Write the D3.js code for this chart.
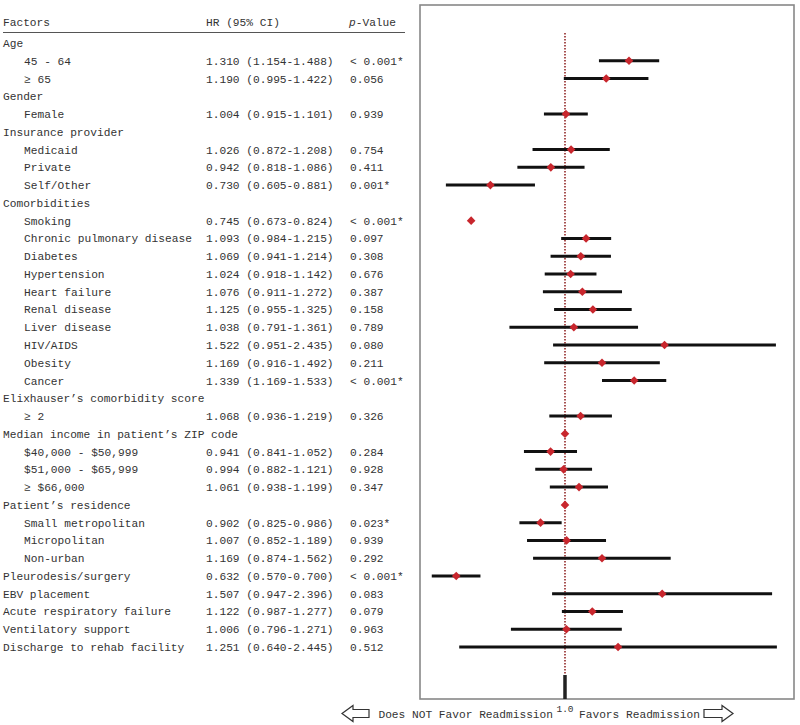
<!DOCTYPE html>
<html><head><meta charset="utf-8">
<script src="https://cdn.jsdelivr.net/npm/d3@7"></script>
<style>body{margin:0;background:#fff}svg{display:block}</style>
</head><body>
<script>
const labels = ["Age","45 - 64","\u2265 65","Gender","Female","Insurance provider","Medicaid","Private","Self/Other","Comorbidities","Smoking","Chronic pulmonary disease","Diabetes","Hypertension","Heart failure","Renal disease","Liver disease","HIV/AIDS","Obesity","Cancer","Elixhauser\u2019s comorbidity score","\u2265 2","Median income in patient\u2019s ZIP code","$40,000 - $50,999","$51,000 - $65,999","\u2265 $66,000","Patient\u2019s residence","Small metropolitan","Micropolitan","Non-urban","Pleurodesis/surgery","EBV placement","Acute respiratory failure","Ventilatory support","Discharge to rehab facility"];
const indent = [0,1,1,0,1,0,1,1,1,0,1,1,1,1,1,1,1,1,1,1,0,1,0,1,1,1,0,1,1,1,0,0,0,0,0];
const hrText = ["","1.310 (1.154-1.488)","1.190 (0.995-1.422)","","1.004 (0.915-1.101)","","1.026 (0.872-1.208)","0.942 (0.818-1.086)","0.730 (0.605-0.881)","","0.745 (0.673-0.824)","1.093 (0.984-1.215)","1.069 (0.941-1.214)","1.024 (0.918-1.142)","1.076 (0.911-1.272)","1.125 (0.955-1.325)","1.038 (0.791-1.361)","1.522 (0.951-2.435)","1.169 (0.916-1.492)","1.339 (1.169-1.533)","","1.068 (0.936-1.219)","","0.941 (0.841-1.052)","0.994 (0.882-1.121)","1.061 (0.938-1.199)","","0.902 (0.825-0.986)","1.007 (0.852-1.189)","1.169 (0.874-1.562)","0.632 (0.570-0.700)","1.507 (0.947-2.396)","1.122 (0.987-1.277)","1.006 (0.796-1.271)","1.251 (0.640-2.445)"];
const pText = ["","< 0.001*","0.056","","0.939","","0.754","0.411","0.001*","","< 0.001*","0.097","0.308","0.676","0.387","0.158","0.789","0.080","0.211","< 0.001*","","0.326","","0.284","0.928","0.347","","0.023*","0.939","0.292","< 0.001*","0.083","0.079","0.963","0.512"];
// plotted marks as they appear in the figure
const hr = [null,1.310,1.190,null,1.004,null,1.026,0.942,0.730,null,0.673,1.093,1.069,1.024,1.076,1.125,1.038,1.522,1.169,1.339,null,1.068,1.0,0.941,0.994,1.061,1.0,0.902,1.007,1.169,0.632,1.507,1.122,1.006,1.251];
const lo = [null,1.154,0.995,null,0.915,null,0.872,0.818,0.605,null,null,0.984,0.941,0.918,0.911,0.955,0.791,0.951,0.916,1.169,null,0.936,null,0.841,0.882,0.938,null,0.825,0.852,0.874,0.570,0.947,0.987,0.796,0.640];
const hi = [null,1.488,1.422,null,1.101,null,1.208,1.086,0.881,null,null,1.215,1.214,1.142,1.272,1.325,1.361,2.435,1.492,1.533,null,1.219,null,1.052,1.121,1.199,null,0.986,1.189,1.562,0.700,2.396,1.277,1.271,2.445];
const headers = ["Factors","HR (95% CI)","-Value"];

const W=800,H=725;
const svg=d3.select("body").append("svg").attr("width",W).attr("height",H);
const font="'Liberation Mono','Courier New',monospace";
const fs=11.2, tc="#333";

const box={l:420,r:794,t:5,b:699};
const x=d3.scaleLog().domain([0.5424,2.628]).range([box.l,box.r]);
const y=d3.scalePoint().domain(d3.range(labels.length)).range([43,647]);

// box
svg.append("rect").attr("x",box.l).attr("y",box.t).attr("width",box.r-box.l).attr("height",box.b-box.t)
  .attr("fill","none").attr("stroke","#888").attr("stroke-width",1.6);

// table header
const g=svg.append("g").attr("font-family",font).attr("font-size",fs).attr("fill",tc);
g.append("text").attr("x",3).attr("y",26).text(headers[0]);
g.append("text").attr("x",206).attr("y",26).text(headers[1]);
const pv=g.append("text").attr("x",349).attr("y",26);
pv.append("tspan").attr("font-style","italic").text("p");
pv.append("tspan").text(headers[2]);
svg.append("line").attr("x1",3).attr("x2",405).attr("y1",32.5).attr("y2",32.5).attr("stroke","#555").attr("stroke-width",1);

// rows
labels.forEach((lab,i)=>{
  const yy=y(i)+4;
  g.append("text").attr("x",indent[i]?24:3).attr("y",yy).text(lab);
  if(hrText[i]) g.append("text").attr("x",206).attr("y",yy).text(hrText[i]);
  if(pText[i]) g.append("text").attr("x",350).attr("y",yy).text(pText[i]);
});

// reference line
svg.append("line").attr("x1",x(1)).attr("x2",x(1)).attr("y1",33).attr("y2",675)
  .attr("stroke","#8b1a1a").attr("stroke-width",1.5).attr("stroke-dasharray","1.5,1.5");
svg.append("line").attr("x1",x(1)).attr("x2",x(1)).attr("y1",675).attr("y2",box.b)
  .attr("stroke","#222").attr("stroke-width",3.5);

// CI lines
const idx=d3.range(labels.length);
svg.append("g").selectAll("line").data(idx.filter(i=>lo[i]!=null)).join("line")
  .attr("x1",i=>x(lo[i])).attr("x2",i=>x(hi[i])).attr("y1",i=>y(i)).attr("y2",i=>y(i))
  .attr("stroke","#111").attr("stroke-width",3);
// diamonds
const d=4.3;
svg.append("g").selectAll("path").data(idx.filter(i=>hr[i]!=null)).join("path")
  .attr("d",i=>{const cx=x(hr[i]),cy=y(i);return `M${cx},${cy-d}L${cx+d},${cy}L${cx},${cy+d}L${cx-d},${cy}Z`;})
  .attr("fill","#c8262d");

// bottom labels
svg.append("text").attr("x",x(1)).attr("y",712).attr("text-anchor","middle").attr("font-family",font)
  .attr("font-size",9.5).attr("fill",tc).text("1.0");
svg.append("text").attr("x",553).attr("y",718).attr("text-anchor","end").attr("font-family",font)
  .attr("font-size",fs).attr("fill",tc).text("Does NOT Favor Readmission");
svg.append("text").attr("x",579).attr("y",718).attr("font-family",font)
  .attr("font-size",fs).attr("fill",tc).text("Favors Readmission");
// arrows
const ay=713.5;
svg.append("path").attr("d",`M342,${ay}L353,${ay-8}L353,${ay-4}L369,${ay-4}L369,${ay+4}L353,${ay+4}L353,${ay+8}Z`)
  .attr("fill","#fff").attr("stroke","#333").attr("stroke-width",1.2);
svg.append("path").attr("d",`M733,${ay}L722,${ay-8}L722,${ay-4}L704,${ay-4}L704,${ay+4}L722,${ay+4}L722,${ay+8}Z`)
  .attr("fill","#fff").attr("stroke","#333").attr("stroke-width",1.2);
</script>
</body></html>
